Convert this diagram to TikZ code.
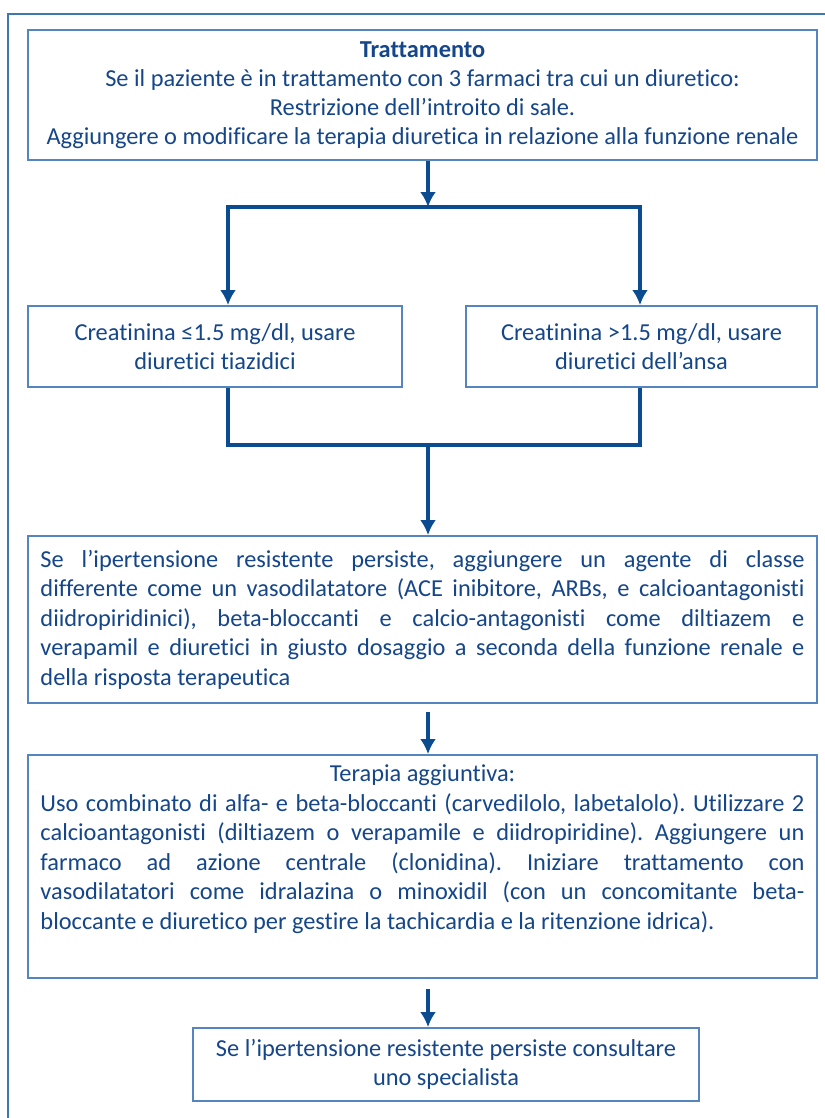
\documentclass[tikz,border=0pt]{standalone}
\usepackage{fontspec}
\setmainfont{Carlito}[Ligatures=CommonOff]
\usetikzlibrary{arrows.meta, positioning, calc}
\definecolor{boxline}{HTML}{5585BF}
\definecolor{frameline}{HTML}{3F76B3}
\definecolor{flowblue}{HTML}{0B4C91}
\definecolor{txtblue}{HTML}{15468A}
\newcommand{\pxu}{0.03cm}
\frenchspacing
\tikzset{
  font=\fontsize{20.8}{24.8}\selectfont,
  stepbox/.style={rectangle, draw=boxline, line width=1.6pt, fill=white,
                  text=txtblue, align=center, inner sep=0pt},
  wide/.style={stepbox, minimum width=789*\pxu},
  flow/.style={-{Latex[length=15*\pxu, width=16*\pxu]}, draw=flowblue, line width=4*\pxu},
  joint/.style={draw=flowblue, line width=4*\pxu},
}
\begin{document}
\begin{tikzpicture}[x=\pxu, y=-\pxu]
\useasboundingbox (0,0) rectangle (825,1118);

% outer frame (cut at right and bottom)
\draw[frameline, line width=2*\pxu] (825,14) -- (8,14) -- (8,1118);

% --- boxes ---
\node[wide, minimum height=130*\pxu] (trat) at (422.5,95)
  {\textbf{Trattamento}\\
   Se il paziente è in trattamento con 3 farmaci tra cui un diuretico:\\
   Restrizione dell’introito di sale.\\
   Aggiungere o modificare la terapia diuretica in relazione alla funzione renale};

\node[stepbox, minimum width=374*\pxu, minimum height=81*\pxu] (crlow) at (215,346.5)
  {Creatinina ≤1.5 mg/dl, usare\\ diuretici tiazidici};
\node[stepbox, minimum width=351*\pxu, minimum height=81*\pxu] (crhigh) at (641.5,346.5)
  {Creatinina >1.5 mg/dl, usare\\ diuretici dell’ansa};

\node[wide, minimum height=167*\pxu] (persist) at (422.5,619.5)
  {\parbox{22.92cm}{\fontsize{20.8}{25.2}\selectfont\color{txtblue}\noindent
   Se l’ipertensione resistente persiste, aggiungere un agente di classe\linebreak
   differente come un vasodilatatore (ACE inibitore, ARBs, e calcioantagonisti\linebreak
   diidropiridinici), beta-bloccanti e calcio-antagonisti come diltiazem e\linebreak
   verapamil e diuretici in giusto dosaggio a seconda della funzione renale e\linebreak
   della risposta terapeutica}};

\node[wide, minimum height=223*\pxu] (aggiunt) at (422.5,866.5)
  {\parbox{22.92cm}{\fontsize{20.8}{25.2}\selectfont\color{txtblue}\noindent
   \centerline{Terapia aggiuntiva:}
   Uso combinato di alfa- e beta-bloccanti (carvedilolo, labetalolo). Utilizzare 2\linebreak
   calcioantagonisti (diltiazem o verapamile e diidropiridine). Aggiungere un\linebreak
   farmaco ad azione centrale (clonidina). Iniziare trattamento con\linebreak
   vasodilatatori come idralazina o minoxidil (con un concomitante beta-\linebreak
   bloccante e diuretico per gestire la tachicardia e la ritenzione idrica).\par
   \vspace{1.05cm}}};

\node[stepbox, minimum width=506*\pxu, minimum height=73*\pxu] (spec) at (446,1064.5)
  {Se l’ipertensione resistente persiste consultare\\ uno specialista};

% --- connectors ---
\coordinate (split)  at (428,207);
\coordinate (splitL) at (228,207);
\coordinate (splitR) at (640,207);
\coordinate (mergeL) at (228,445);
\coordinate (mergeR) at (640,445);
\coordinate (merge)  at (428,445);

\draw[flow]  (trat.south -| split) -- (split);
\draw[joint] ([xshift=-2*\pxu]splitL) -- ([xshift=2*\pxu]splitR);
\draw[flow]  (splitL) -- (splitL |- crlow.north);
\draw[flow]  (splitR) -- (splitR |- crhigh.north);
\draw[joint] (crlow.south -| mergeL) -- (mergeL) -- (mergeR) -- (crhigh.south -| mergeR);
\draw[flow]  (merge) -- (merge |- persist.north);
\draw[flow]  ([yshift=-8*\pxu]persist.south -| merge) -- (merge |- aggiunt.north);
\draw[flow]  ([yshift=-10*\pxu]aggiunt.south -| merge) -- (merge |- spec.north);

\end{tikzpicture}
\end{document}
